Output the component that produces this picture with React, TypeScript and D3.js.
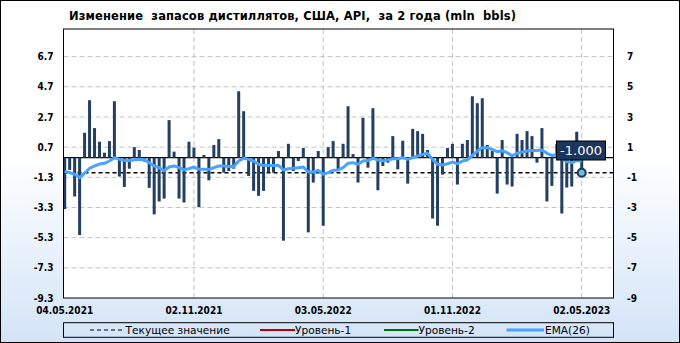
import React from "react";
import * as d3 from "d3";

const changes: number[] = [
  -3.41, -0.81, -2.57, -5.13, 1.65, 3.81, 1.96, 1.06, 0.33, 1.1,
  3.74, -1.25, -1.94, -0.73, 0.7, 0.51, -0.26, -2.0, -3.76, -2.9,
  -2.71, 2.49, 0.4, -2.71, -2.97, 1.06, 0.66, -3.28, 0.18, -1.5,
  0.84, 1.23, -0.99, -0.88, -0.73, 4.4, 3.08, -1.21, -2.2, -2.53,
  -2.2, -0.99, -0.99, 0.44, -5.5, 0.92, -0.88, -0.22, 0.64, -4.95,
  -1.65, 0.44, -4.51, 0.7, 1.1, -0.81, 0.92, 3.41, 0.24, -1.65,
  2.64, -0.66, 3.28, -2.16, -0.55, -0.33, 1.43, -0.77, 1.12, -1.72,
  1.91, 1.76, 1.58, 0.51, -4.03, -4.51, -1.12, 0.64, 0.92, -1.78,
  0.92, 1.17, 4.07, 3.61, 3.94, 0.84, 0.44, -2.38, 1.17, -1.78,
  -1.91, 1.58, 1.17, 1.76, 1.43, -0.33, 1.96, -2.9, -1.87, 0.9,
  -3.7, -1.98, -1.91, 1.72, -1.0,
];

const ema26: number[] = [
  -0.92, -0.99, -1.1, -1.32, -1.03, -0.7, -0.55, -0.42, -0.37, -0.22,
  0.0, -0.11, -0.18, -0.18, -0.13, -0.11, -0.13, -0.33, -0.55, -0.66,
  -0.86, -0.62, -0.55, -0.66, -0.81, -0.73, -0.62, -0.77, -0.77, -0.79,
  -0.66, -0.55, -0.55, -0.59, -0.59, -0.22, -0.04, -0.11, -0.22, -0.44,
  -0.51, -0.51, -0.51, -0.51, -0.81, -0.73, -0.7, -0.66, -0.62, -0.95,
  -0.95, -0.84, -1.1, -0.99, -0.84, -0.81, -0.66, -0.37, -0.33, -0.44,
  -0.22, -0.18, -0.04, -0.15, -0.2, -0.15, -0.07, -0.07, 0.0, -0.11,
  0.0, 0.11, 0.22, 0.29, -0.11, -0.44, -0.48, -0.4, -0.29, -0.4,
  -0.22, -0.15, 0.15, 0.44, 0.66, 0.66, 0.55, 0.4, 0.46, 0.33,
  0.13, 0.29, 0.37, 0.44, 0.48, 0.48, 0.51, 0.29, 0.15, 0.2,
  -0.08, -0.25, -0.33, -0.18, -0.24,
];

const dateLabels: string[] = ["04.05.2021", "02.11.2021", "03.05.2022", "01.11.2022", "02.05.2023"];
const dateIndex: number[] = [0, 26, 52, 78, 104];
const leftTicks: number[] = [6.7, 4.7, 2.7, 0.7, -1.3, -3.3, -5.3, -7.3, -9.3];
const rightTickLabels: string[] = ["7", "5", "3", "1", "-1", "-3", "-5", "-7", "-9"];
const currentValue = -1.0;
const currentLabel = "-1.000";
const title = "Изменение  запасов дистиллятов, США, API,  за 2 года (mln  bbls)";
const legendItems: string[] = ["Текущее значение", "Уровень-1", "Уровень-2", "EMA(26)"];

const W = 680;
const H = 343;
const PL = 63.5;
const PR = 613.5;
const PT = 29;
const PB = 298;

const FONT = "'DejaVu Sans Condensed', 'DejaVu Sans', sans-serif";
const BAR = "#243f60";
const EMA = "#46a3ff";

export default function App() {
  const x = d3.scaleLinear().domain([0, 104]).range([64.7, 581.7]);
  const y = d3.scaleLinear().domain([-9.3, 6.7]).range([PB, 56.6]);
  const line = d3
    .line<number>()
    .x((_, i) => x(i))
    .y((d) => y(d))
    .curve(d3.curveLinear);

  const lx = x(changes.length - 1);
  const ly = y(currentValue);

  return (
    <svg
      width={W}
      height={H}
      style={{ position: "absolute", left: 0, top: 0 }}
      fontFamily={FONT}
    >
      <defs>
        <linearGradient id="bg" x1="0" y1="0" x2="0" y2="1">
          <stop offset="0" stopColor="#ffffff" />
          <stop offset="0.45" stopColor="#ffffff" />
          <stop offset="1" stopColor="#d3e4f8" />
        </linearGradient>
        <clipPath id="plotClip">
          <rect x={PL} y={PT} width={PR - PL} height={PB - PT} />
        </clipPath>
      </defs>
      <rect x={0.5} y={0.5} width={W - 1} height={H - 1} fill="url(#bg)" stroke="#000" />
      <text
        x={69}
        y={20}
        fontSize={11.5}
        fontWeight="bold"
        fill="#000"
        textLength={447}
        fontFamily="'DejaVu Sans', sans-serif"
        style={{ whiteSpace: "pre" }}
      >
        {title}
      </text>

      <rect x={PL} y={PT} width={PR - PL} height={PB - PT} fill="#fff" />

      {leftTicks.slice(0, -1).map((t) => (
        <line key={"h" + t} x1={PL} x2={PR} y1={y(t)} y2={y(t)} stroke="#c4c4c4" strokeDasharray="5,3" />
      ))}
      {dateIndex.slice(1).map((d) => (
        <line key={"v" + d} x1={x(d)} x2={x(d)} y1={PT} y2={PB} stroke="#c4c4c4" strokeDasharray="5,3" />
      ))}

      <g clipPath="url(#plotClip)">
        <line x1={PL} x2={PR} y1={ly} y2={ly} stroke="#000" strokeWidth={1.3} strokeDasharray="4,3" />
        <line x1={PL} x2={PR} y1={y(0)} y2={y(0)} stroke="#000" strokeWidth={1.3} />
      </g>

      {changes.map((v, i) => (
        <rect
          key={i}
          x={x(i) - 1.5}
          width={3}
          y={Math.min(y(v), y(0))}
          height={Math.abs(y(v) - y(0))}
          fill={BAR}
        />
      ))}

      <path d={line(ema26) || ""} fill="none" stroke={EMA} strokeWidth={3} strokeLinejoin="round" />

      <rect x={556.5} y={141} width={49} height={19} fill="#1b365b" stroke="#000" />
      <text
        x={581}
        y={150.5}
        fontSize={13}
        fill="#fff"
        textAnchor="middle"
        dominantBaseline="central"
        fontFamily="'DejaVu Sans', sans-serif"
      >
        {currentLabel}
      </text>
      <circle cx={lx} cy={ly} r={4} fill="#6cc0d8" stroke="#1b365b" strokeWidth={2} />

      <rect x={PL} y={PT} width={PR - PL} height={PB - PT} fill="none" stroke="#000" />

      {leftTicks.map((t) => (
        <text key={"l" + t} x={53.5} y={y(t)} dy="0.36em" fontSize={10} fontWeight="bold" textAnchor="end">
          {t.toFixed(1)}
        </text>
      ))}
      {leftTicks.map((t, i) => (
        <text key={"r" + t} x={627} y={y(t)} dy="0.36em" fontSize={10} fontWeight="bold" textAnchor="start">
          {rightTickLabels[i]}
        </text>
      ))}
      {dateIndex.map((d, i) => (
        <text key={"d" + d} x={x(d)} y={314.3} fontSize={10} fontWeight="bold" textAnchor="middle">
          {dateLabels[i]}
        </text>
      ))}

      <g fontFamily="'DejaVu Sans', sans-serif" fontSize={10.6}>
        <rect x={PL} y={322.7} width={PR - PL} height={14.6} fill="none" stroke="#000" />
        <line x1={90} x2={123.5} y1={330} y2={330} stroke="#000" strokeDasharray="4,3" />
        <text x={125.5} y={330} dy="0.36em">{legendItems[0]}</text>
        <line x1={260} x2={295} y1={330} y2={330} stroke="#c00000" strokeWidth={2} />
        <text x={295} y={330} dy="0.36em">{legendItems[1]}</text>
        <line x1={384} x2={418.5} y1={330} y2={330} stroke="#007000" strokeWidth={2} />
        <text x={418.5} y={330} dy="0.36em">{legendItems[2]}</text>
        <line x1={506.5} x2={544} y1={330} y2={330} stroke={EMA} strokeWidth={3} />
        <text x={545} y={330} dy="0.36em">{legendItems[3]}</text>
      </g>
    </svg>
  );
}
